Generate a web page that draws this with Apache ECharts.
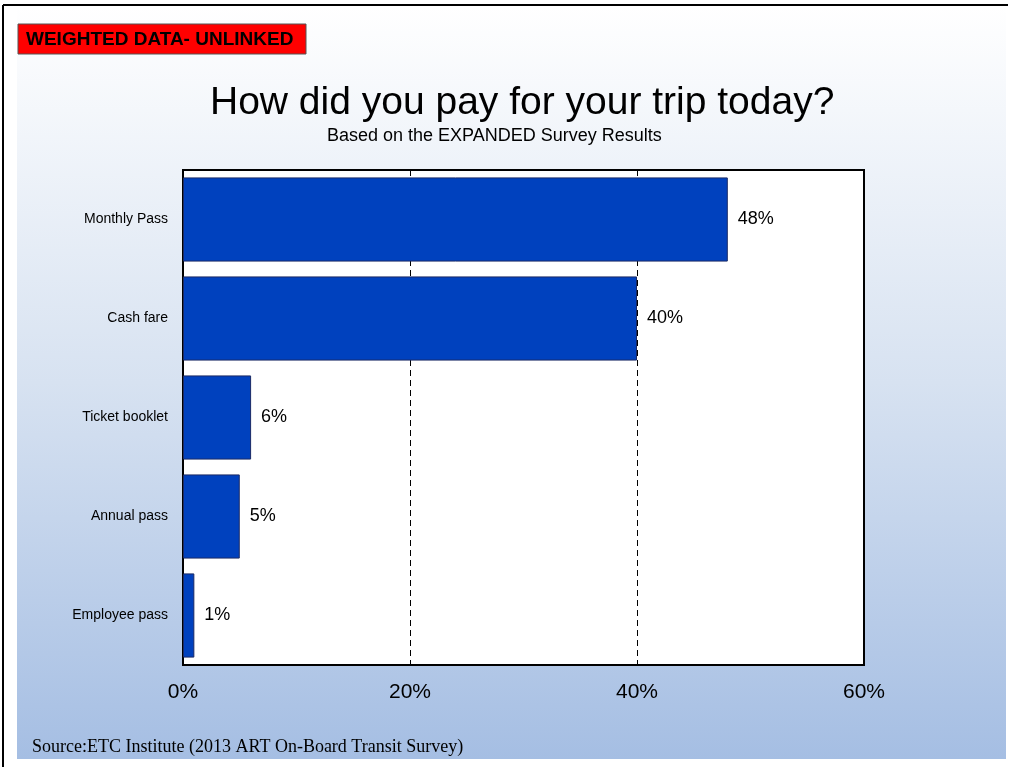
<!DOCTYPE html>
<html>
<head>
<meta charset="utf-8">
<script src="https://cdn.jsdelivr.net/npm/echarts@6/dist/echarts.min.js"></script>
<style>
  html, body { margin: 0; padding: 0; background: #fff; }
  #chart { width: 1010px; height: 767px; }
</style>
</head>
<body>
<div id="chart"></div>
<script>
// Payment method shares (percent of unlinked trips, weighted)
const categories = ['Monthly Pass', 'Cash fare', 'Ticket booklet', 'Annual pass', 'Employee pass'];
const shares = [48, 40, 6, 5, 1];
const axisTicks = [0, 20, 40, 60];

const chart = echarts.init(document.getElementById('chart'), null, { renderer: 'canvas' });

const FONT = '"Liberation Sans", Arial, sans-serif';

chart.setOption({
  animation: false,
  graphic: [
    // slide background: white fading into light blue
    {
      type: 'rect', z: -10, silent: true,
      shape: { x: 17, y: 6, width: 989, height: 753 },
      style: {
        fill: new echarts.graphic.LinearGradient(0, 0, 0, 1, [
          { offset: 0, color: '#ffffff' },
          { offset: 0.5, color: '#d7e2f1' },
          { offset: 1, color: '#a5bee3' }
        ])
      }
    },
    // frame lines along the top and left edges
    { type: 'line', silent: true, shape: { x1: 3, y1: 5, x2: 1008, y2: 5 }, style: { stroke: '#000', lineWidth: 2 } },
    { type: 'line', silent: true, shape: { x1: 3, y1: 5, x2: 3, y2: 767 }, style: { stroke: '#000', lineWidth: 2 } },
    // red tag in the upper left
    {
      type: 'rect', silent: true,
      shape: { x: 18, y: 24, width: 288, height: 30 },
      style: { fill: '#ff0000', stroke: '#555', lineWidth: 1 }
    },
    {
      type: 'text', silent: true, x: 26, y: 40,
      style: { text: 'WEIGHTED DATA- UNLINKED', font: 'bold 19px ' + FONT, fill: '#000', textVerticalAlign: 'middle' }
    },
    // source note
    {
      type: 'text', silent: true, x: 32, y: 747,
      style: { text: 'Source:ETC Institute (2013 ART On-Board Transit Survey)', font: '18px "Liberation Serif", "Times New Roman", serif', fill: '#000', textVerticalAlign: 'middle' }
    }
  ],
  title: [
    {
      text: 'How did you pay for your trip today?',
      left: 205, top: 79,
      textStyle: { fontFamily: FONT, fontSize: 39, fontWeight: 'normal', color: '#000' }
    },
    {
      text: 'Based on the EXPANDED Survey Results',
      left: 322, top: 122,
      textStyle: { fontFamily: FONT, fontSize: 18, fontWeight: 'normal', color: '#000' }
    }
  ],
  grid: {
    left: 183, right: 146, top: 170, bottom: 102,
    show: true, backgroundColor: '#fff', borderColor: '#000', borderWidth: 2
  },
  xAxis: {
    type: 'value',
    min: axisTicks[0], max: axisTicks[axisTicks.length - 1],
    interval: axisTicks[1] - axisTicks[0],
    axisLine: { show: false },
    axisTick: { show: false },
    axisLabel: { formatter: '{value}%', fontFamily: FONT, fontSize: 21, color: '#000', margin: 17 },
    splitLine: { show: true, lineStyle: { color: '#000', type: [6, 4], width: 1 } }
  },
  yAxis: {
    type: 'category',
    data: categories,
    inverse: true,
    axisLine: { show: false },
    axisTick: { show: false },
    axisLabel: { fontFamily: FONT, fontSize: 14, color: '#000', margin: 15 }
  },
  series: [{
    type: 'bar',
    data: shares,
    barCategoryGap: '15%',
    itemStyle: { color: '#0041be', borderColor: '#1a2a66', borderWidth: 1 },
    label: {
      show: true, position: 'right', distance: 10,
      formatter: '{c}%', fontFamily: FONT, fontSize: 18, color: '#000'
    }
  }]
});
</script>
</body>
</html>
